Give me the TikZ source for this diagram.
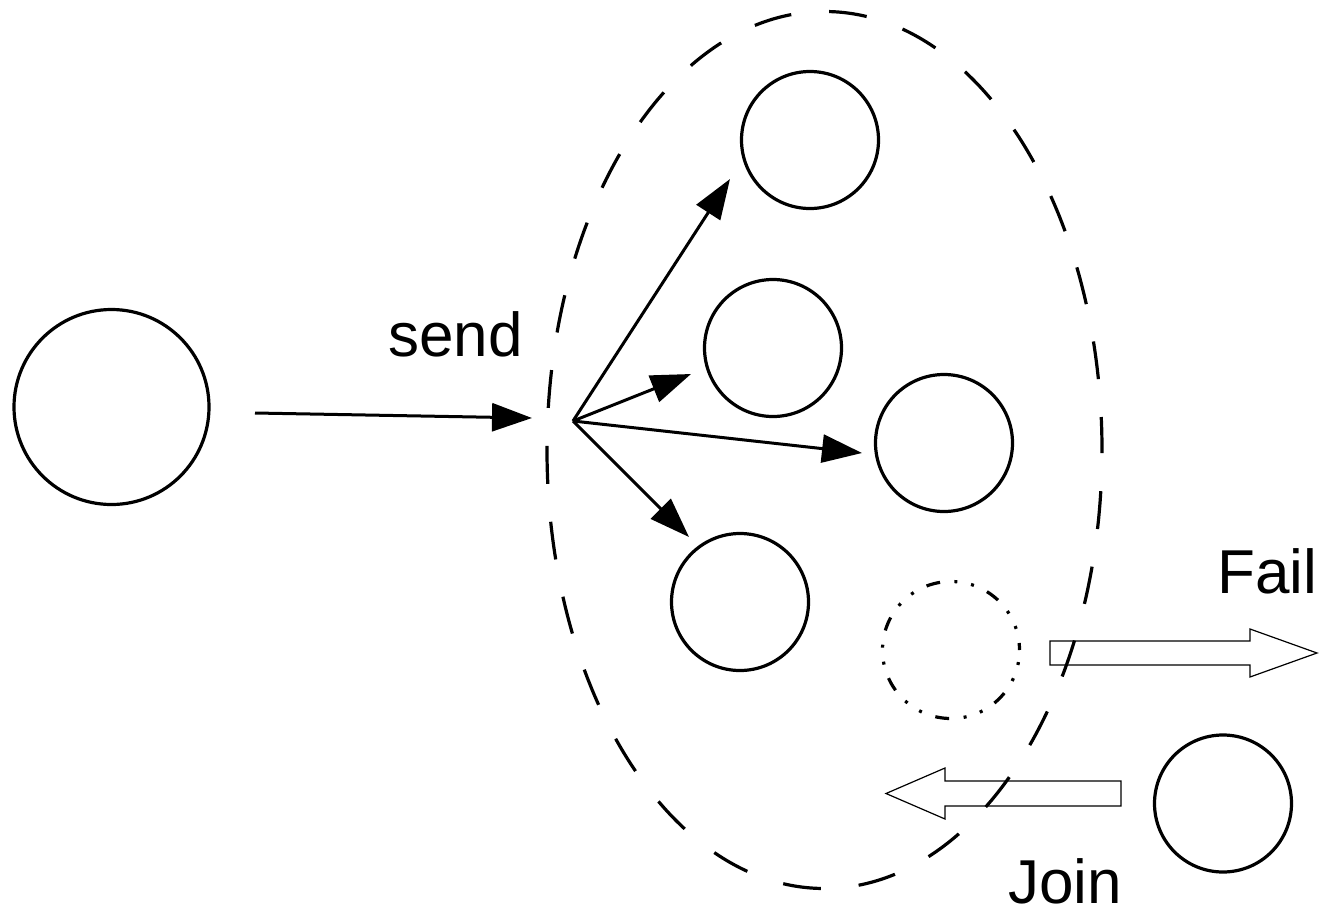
\documentclass[tikz,border=0pt]{standalone}
\usepackage{fontspec}
\setmainfont{Liberation Sans}
\usetikzlibrary{arrows.meta,shapes.geometric}
\begin{document}
\begin{tikzpicture}[x=1pt,y=-1pt,
  peer/.style={circle,draw,line width=3.2pt,inner sep=0pt,minimum size=137pt},
  gone/.style={peer,dash pattern=on 14pt off 14.5pt on 3pt off 14pt on 3pt off 14.3pt,dash phase=7pt},
  msg/.style={line width=3pt,-{Triangle[length=40pt,width=28pt]}},
  bigarrow/.style={draw,line width=1.2pt,line join=miter},
  wordtext/.style={inner sep=0pt,anchor=base west,font=\fontsize{62}{70}\selectfont},
  group/.style={ellipse,draw,line width=3.2pt,inner sep=0pt,minimum width=555pt,minimum height=877pt,dash pattern=on 38pt off 38pt,dash phase=5pt}]
\useasboundingbox (0,0) rectangle (1323,916);

% sender
\node[peer,minimum size=195pt] (sender) at (111.5,407) {};

% members of the group
\node[peer] (m1) at (810,140) {};
\node[peer] (m2) at (773,348) {};
\node[peer] (m3) at (944,443) {};
\node[peer] (m4) at (740,602) {};
\node[gone] (failed) at (951,650) {};
\node[peer] (newcomer) at (1223,803.5) {};

% message entering the group and being fanned out
\coordinate (src) at (255,413);
\coordinate (sendtip) at (532,418);
\coordinate (hub) at (573,421);
\coordinate (t1) at (730,179);
\coordinate (t2) at (691,374);
\coordinate (t3) at (862,453);
\coordinate (t4) at (689,537);

\draw[msg] (src) -- (sendtip);
\draw[msg] (hub) -- (t1);
\draw[msg] (hub) -- (t2);
\draw[msg] (hub) -- (t3);
\draw[msg] (hub) -- (t4);

\node[wordtext] (sendlbl) at (388,356) {send};

% leaving and joining
\draw[bigarrow] (1050,641) -- (1250,641) -- (1250,629) -- (1317,653)
  -- (1250,677) -- (1250,665) -- (1050,665) -- cycle;
\draw[bigarrow] (1121,781) -- (945,781) -- (945,768) -- (886,793.5)
  -- (945,819) -- (945,806) -- (1121,806) -- cycle;

\node[wordtext] (faillbl) at (1217,593) {Fail};
\node[wordtext] (joinlbl) at (1008,903) {Join};

% group boundary
\node[group] (grp) at (824.5,450) {};
\end{tikzpicture}
\end{document}
